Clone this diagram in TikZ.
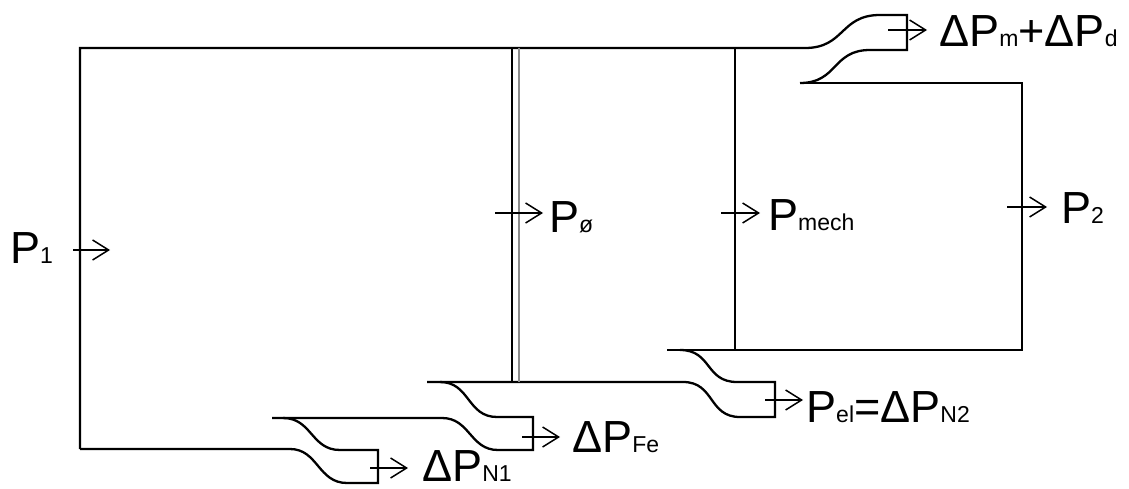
\documentclass[tikz,border=0pt]{standalone}
\usepackage{fontspec}
\setmainfont{Liberation Sans}
\usetikzlibrary{arrows.meta}
\newcommand\lowtext[1]{{\fontsize{23}{25}\selectfont #1}}
\begin{document}
\begin{tikzpicture}[x=1pt,y=-1pt,
  outline/.style={line width=2.3pt,line join=miter},
  grayline/.style={line width=2.3pt,draw=black!45},
  flow/.style={line width=1.5pt,-{Straight Barb[length=16pt,width=20pt,line width=1.5pt]}},
  lbl/.style={anchor=base west,inner sep=0pt,font=\fontsize{45}{50}\selectfont}]
\useasboundingbox (0,0) rectangle (1129,489);

% main outline, top exit
\draw[outline] (80,449) -- (80,48) -- (805,48) .. controls (845,48) and (840,15) .. (880,15) -- (907,15) -- (907,50) -- (870,50) .. controls (832,50) and (838,83) .. (800,83);
\draw[outline] (800,83) -- (1022,83) -- (1022,350) -- (667,350);

% Pel exit
\draw[outline] (680,350) .. controls (712,350) and (705,382) .. (737,382) -- (775,382) -- (775,417) -- (740,417) .. controls (708,417) and (715,382) .. (683,382) -- (427,382);

% Fe exit
\draw[outline] (440,382) .. controls (470,382) and (467,417) .. (497,417) -- (533,417) -- (533,450) -- (498,450) .. controls (470,450) and (470,418) .. (442,418) -- (272,418);

% N1 exit
\draw[outline] (283,418) .. controls (312,418) and (311,450) .. (340,450) -- (378,450) -- (378,483) -- (347,483) .. controls (318,483) and (318,449) .. (290,449) -- (80,449);

% internal dividers
\draw[outline] (512,48) -- (512,382);
\draw[grayline] (519,48) -- (519,382);
\draw[outline] (735,48) -- (735,350);

% labels
\node[lbl] (p1) at (10,263) {P\lowtext{1}};
\node[lbl] (pphi) at (549,232) {P\lowtext{ø}};
\node[lbl] (pmech) at (768,230) {P\lowtext{mech}};
\node[lbl] (p2) at (1061,223) {P\lowtext{2}};
\node[lbl] (pmd) at (939,47) {ΔP\lowtext{m}+ΔP\lowtext{d}};
\node[lbl] (pfe) at (572,452) {ΔP\lowtext{Fe}};
\node[lbl] (pn1) at (422,481) {ΔP\lowtext{N1}};
\node[lbl] (pel) at (806,422) {P\lowtext{el}=ΔP\lowtext{N2}};

% flow arrows
\coordinate (a1s) at (73,250);   \coordinate (a1e) at (110,250);
\coordinate (a2s) at (495,213);  \coordinate (a2e) at (543,213);
\coordinate (a3s) at (721,213);  \coordinate (a3e) at (760,213);
\coordinate (a4s) at (1007,207); \coordinate (a4e) at (1047,207);
\coordinate (a5s) at (888,30);   \coordinate (a5e) at (927,30);
\coordinate (a6s) at (522,437);  \coordinate (a6e) at (560,437);
\coordinate (a7s) at (370,468);  \coordinate (a7e) at (408,468);
\coordinate (a8s) at (765,400);  \coordinate (a8e) at (803,400);
\foreach \i in {1,...,8} \draw[flow] (a\i s) -- (a\i e);
\end{tikzpicture}
\end{document}
